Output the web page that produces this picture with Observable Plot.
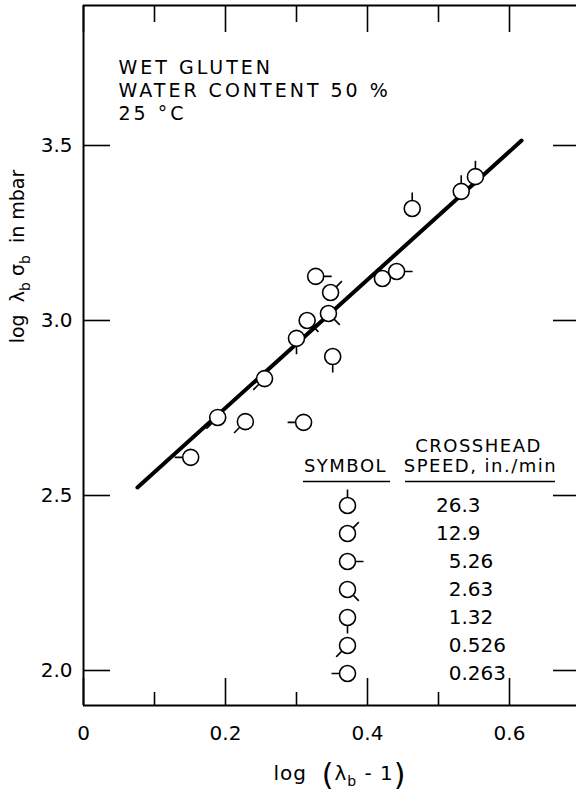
<!DOCTYPE html>
<html><head><meta charset="utf-8">
<script src="https://cdn.jsdelivr.net/npm/d3@7"></script>
<script src="https://cdn.jsdelivr.net/npm/@observablehq/plot@0.6"></script>
<style>
html,body{margin:0;padding:0;background:#fff;overflow:hidden}
#chart svg{display:block;overflow:visible}
</style></head><body><div id="chart"></div>
<script>
// ---- data ----
const xValues = [0.151, 0.189, 0.228, 0.310, 0.255, 0.300, 0.315, 0.345, 0.348, 0.327, 0.351, 0.421, 0.441, 0.463, 0.532, 0.552];
const yValues = [2.609, 2.723, 2.711, 2.709, 2.834, 2.949, 3.000, 3.020, 3.080, 3.126, 2.897, 3.120, 3.140, 3.320, 3.369, 3.411];
const pointSpeeds = ["0.263","0.526","0.526","0.263","0.526","1.32","2.63","2.63","12.9","5.26","1.32","12.9","5.26","26.3","26.3","26.3"];
const legendSpeeds = ["26.3","12.9","5.26","2.63","1.32","0.526","0.263"];
const tailAngles = [-90, -45, 0, 45, 90, 135, 180]; // direction of each symbol's tail
const fitX = [0.076, 0.617];
const fitY = [2.523, 3.514];
const xTickValues = [0, 0.2, 0.4, 0.6];
const xTickLabels = ["0", "0.2", "0.4", "0.6"];
const xMinorTicks = [0.1, 0.3, 0.5];
const yTickValues = [2.0, 2.5, 3.0, 3.5];
const yTickLabels = ["2.0", "2.5", "3.0", "3.5"];
const noteText = "WET GLUTEN\nWATER CONTENT 50 %\n25 °C";
const yTitle = "log λ_b σ_b in mbar";
const xTitle = "log (λ_b - 1)";
const legendHeads = ["CROSSHEAD", "SYMBOL", "SPEED, in./min"];

// ---- layout ----
const W = 576, H = 791;
const xDomain = [0, 0.7], yDomain = [1.9, 3.9];
const xRange = [83, 580], yRange = [705, 5];
const pxX = (xRange[1] - xRange[0]) / (xDomain[1] - xDomain[0]);
const pxY = (yRange[0] - yRange[1]) / (yDomain[1] - yDomain[0]);
const dX = p => p / pxX, dY = p => p / pxY;
const at = (px, py) => ({x: xDomain[0] + dX(px - xRange[0]), y: yDomain[0] + dY(yRange[0] - py)});

const points = xValues.map((x, i) => ({x, y: yValues[i], speed: pointSpeeds[i]}));
const fit = fitX.map((x, i) => ({x, y: fitY[i]}));

function tailSymbol(angleDeg) {
  const a = angleDeg * Math.PI / 180;
  return {draw(ctx, size) {
    const r = Math.sqrt(size / Math.PI);
    ctx.moveTo(r, 0); ctx.arc(0, 0, r, 0, 2 * Math.PI);
    ctx.moveTo(r * Math.cos(a), r * Math.sin(a));
    ctx.lineTo((r + 8) * Math.cos(a), (r + 8) * Math.sin(a));
  }};
}

// legend placement
const legSymX = at(347, 0).x;
const legDecX = at(461, 0).x;
const legY0 = at(0, 505).y;
const legStep = dY(28);
const legend = legendSpeeds.map((s, i) => {
  const k = s.indexOf(".");
  return {speed: s, y: legY0 - i * legStep, int: s.slice(0, k), frac: s.slice(k)};
});

const dotMarks = [];
legendSpeeds.forEach((s, i) => {
  const sym = tailSymbol(tailAngles[i]);
  dotMarks.push(Plot.dot(points.filter(p => p.speed === s), {x: "x", y: "y", r: 8, symbol: sym, fill: "white", stroke: "black", strokeWidth: 1.6}));
  dotMarks.push(Plot.dot(legend.filter(d => d.speed === s), {x: () => legSymX, y: "y", r: 8, symbol: sym, fill: "white", stroke: "black", strokeWidth: 1.6}));
});

const headPos = [[478, 446], [345, 466], [480, 466]];
const heads = legendHeads.map((t, i) => ({...at(...headPos[i]), t}));
const underlines = [
  {x1: at(303, 0).x, x2: at(390, 0).x, y: at(0, 481).y},
  {x1: at(405, 0).x, x2: at(555, 0).x, y: at(0, 481).y}
];

const chart = Plot.plot({
  width: W, height: H,
  marginLeft: 83, marginRight: 0, marginTop: 5, marginBottom: 86,
  x: {domain: xDomain, range: xRange, axis: null},
  y: {domain: yDomain, range: yRange, axis: null},
  style: {fontFamily: "DejaVu Sans, sans-serif", fontSize: "20px", color: "black", background: "white"},
  marks: [
    Plot.ruleX([xDomain[0], xDomain[1]], {y1: yDomain[0], y2: yDomain[1], strokeWidth: 2}),
    Plot.ruleY([yDomain[0], yDomain[1]], {x1: xDomain[0], x2: xDomain[1], strokeWidth: 2}),
    Plot.ruleX(xTickValues, {y1: yDomain[0], y2: yDomain[0] + dY(27), strokeWidth: 1.6}),
    Plot.ruleX(xMinorTicks, {y1: yDomain[0], y2: yDomain[0] + dY(13), strokeWidth: 1.6}),
    Plot.ruleX(xTickValues, {y1: yDomain[1], y2: yDomain[1] - dY(27), strokeWidth: 1.6}),
    Plot.ruleX(xMinorTicks, {y1: yDomain[1], y2: yDomain[1] - dY(17), strokeWidth: 1.6}),
    Plot.ruleY(yTickValues, {x1: xDomain[0], x2: xDomain[0] + dX(27), strokeWidth: 1.6}),
    Plot.ruleY(yTickValues, {x1: xDomain[1], x2: xDomain[1] - dX(27), strokeWidth: 1.6}),
    Plot.text(xTickValues, {x: d => d, y: () => yDomain[0], dy: 28, text: (d, i) => xTickLabels[i], lineAnchor: "middle", fontSize: 20}),
    Plot.text(yTickValues, {x: () => xDomain[0], y: d => d, dx: -11, text: (d, i) => yTickLabels[i], textAnchor: "end", lineAnchor: "middle", fontSize: 20}),
    Plot.text([yTitle], {frameAnchor: "left", dx: -66, dy: -99, rotate: -90, text: d => d, textAnchor: "middle", lineAnchor: "middle", fontSize: 19}),
    Plot.text([xTitle], {frameAnchor: "bottom", dx: 10, dy: 68, text: d => d, textAnchor: "middle", lineAnchor: "middle", fontSize: 20}),
    Plot.text([noteText], {x: () => at(118, 0).x, y: () => at(0, 57).y, text: d => d, textAnchor: "start", lineAnchor: "top", lineHeight: 1.22, fontSize: 19}),
    Plot.line(fit, {x: "x", y: "y", strokeWidth: 4, stroke: "black"}),
    ...dotMarks,
    Plot.text(heads, {x: "x", y: "y", text: "t", textAnchor: "middle", lineAnchor: "middle", fontSize: 18}),
    Plot.ruleY(underlines, {x1: "x1", x2: "x2", y: "y", strokeWidth: 1.6}),
    Plot.text(legend, {x: () => legDecX, y: "y", text: "int", textAnchor: "end", lineAnchor: "middle", fontSize: 20}),
    Plot.text(legend, {x: () => legDecX, y: "y", text: "frac", textAnchor: "start", lineAnchor: "middle", fontSize: 20})
  ]
});
document.getElementById("chart").appendChild(chart);

const allText = Array.from(chart.querySelectorAll("text"));
const findText = pred => allText.filter(t => pred(t.textContent));
findText(s => s.startsWith("WET GLUTEN")).forEach(t => t.style.letterSpacing = "3px");
findText(s => legendHeads.includes(s)).forEach(t => t.style.letterSpacing = "1.5px");

// subscripts and large parentheses as tspans
function rich(str, segs, spacing) {
  findText(s => s === str).forEach(t => {
    t.textContent = "";
    t.style.letterSpacing = spacing;
    let off = 0;
    for (const [s, kind] of segs) {
      const ts = document.createElementNS("http://www.w3.org/2000/svg", "tspan");
      let target = 0;
      if (kind === "sub") { ts.setAttribute("font-size", "14"); target = 6; }
      if (kind === "big") { ts.setAttribute("font-size", "30"); target = 5; }
      ts.setAttribute("dy", target - off);
      off = target;
      ts.textContent = s;
      t.appendChild(ts);
    }
  });
}
rich(yTitle, [["log ", ""], [" λ", ""], ["b", "sub"], [" σ", ""], ["b", "sub"], ["  in mbar", ""]], "0px");
rich(xTitle, [["log  ", ""], ["(", "big"], ["λ", ""], ["b", "sub"], [" - ", ""], ["1", ""], [")", "big"]], "1px");
</script></body></html>
